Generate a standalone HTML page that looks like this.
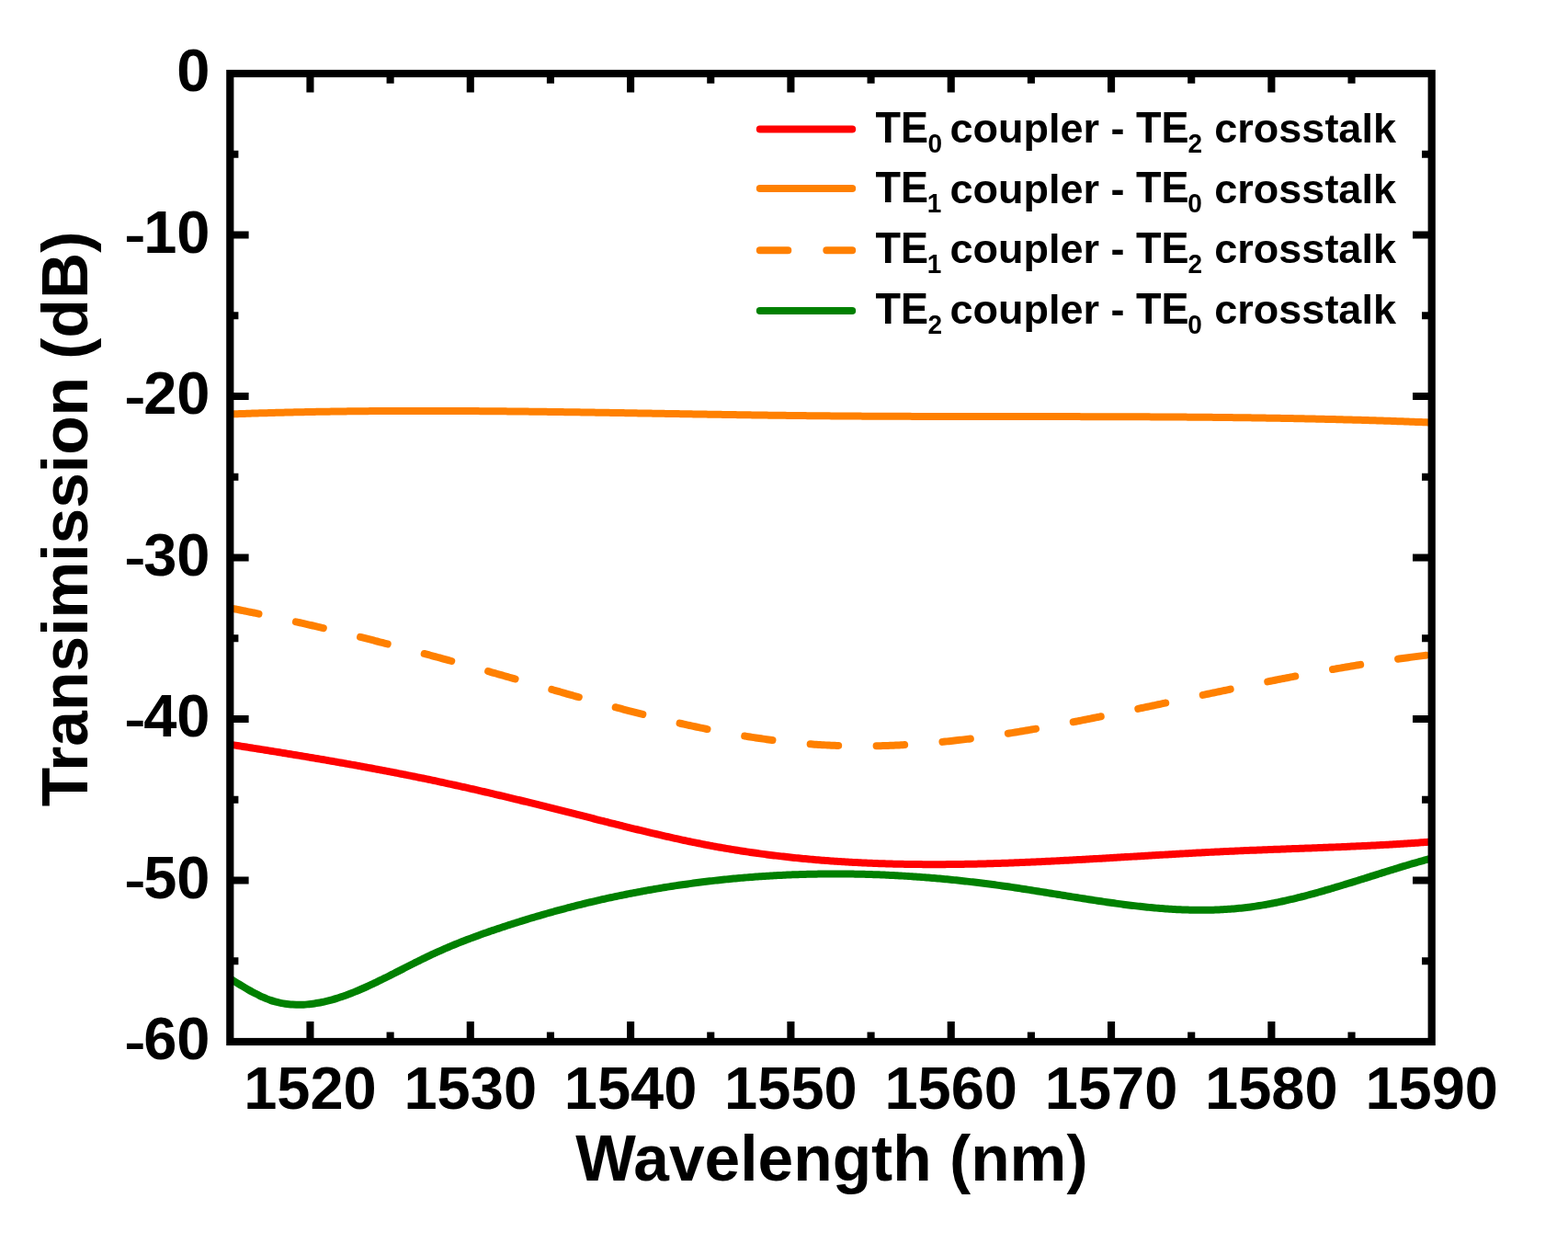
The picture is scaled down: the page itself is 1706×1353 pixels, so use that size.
<!DOCTYPE html><html><head><meta charset="utf-8"><title>Transmission crosstalk plot</title><style>html,body{margin:0;padding:0;background:#fff;}svg{display:block;}</style></head><body>
<svg width="1706" height="1353" viewBox="0 0 1706 1353">
<rect x="0" y="0" width="1706" height="1353" fill="#fff"/>
<defs><clipPath id="pc"><rect x="250.3" y="80.0" width="1307.4" height="1053.0"/></clipPath></defs>
<g clip-path="url(#pc)" fill="none" stroke-width="8.0" stroke-linejoin="round">
<path d="M250.30,450.46 C250.97,450.43 252.97,450.36 254.30,450.31 C255.63,450.26 256.97,450.21 258.30,450.16 C259.63,450.11 260.97,450.07 262.30,450.02 C263.63,449.97 264.97,449.93 266.30,449.88 C267.63,449.84 268.97,449.79 270.30,449.75 C271.63,449.70 272.97,449.66 274.30,449.62 C275.63,449.57 276.97,449.53 278.30,449.49 C279.63,449.45 280.97,449.41 282.30,449.37 C283.63,449.33 284.97,449.29 286.30,449.25 C287.63,449.21 288.97,449.17 290.30,449.13 C291.63,449.09 292.97,449.05 294.30,449.02 C295.63,448.98 296.97,448.94 298.30,448.91 C299.63,448.87 300.97,448.83 302.30,448.80 C303.63,448.76 304.97,448.73 306.30,448.70 C307.63,448.66 308.97,448.63 310.30,448.60 C311.63,448.56 312.97,448.53 314.30,448.50 C315.63,448.47 316.97,448.44 318.30,448.41 C319.63,448.37 320.97,448.34 322.30,448.32 C323.63,448.29 324.97,448.26 326.30,448.23 C327.63,448.20 328.97,448.17 330.30,448.14 C331.63,448.12 332.97,448.09 334.30,448.06 C335.63,448.04 336.97,448.01 338.30,447.98 C339.63,447.96 340.97,447.93 342.30,447.91 C343.63,447.88 344.97,447.86 346.30,447.84 C347.63,447.81 348.97,447.79 350.30,447.77 C351.63,447.75 352.97,447.72 354.30,447.70 C355.63,447.68 356.97,447.66 358.30,447.64 C359.63,447.62 360.97,447.60 362.30,447.58 C363.63,447.56 364.97,447.54 366.30,447.52 C367.63,447.50 368.97,447.48 370.30,447.46 C371.63,447.45 372.97,447.43 374.30,447.41 C375.63,447.40 376.97,447.38 378.30,447.36 C379.63,447.35 380.97,447.33 382.30,447.32 C383.63,447.30 384.97,447.29 386.30,447.27 C387.63,447.26 388.97,447.24 390.30,447.23 C391.63,447.22 392.97,447.20 394.30,447.19 C395.63,447.18 396.97,447.17 398.30,447.16 C399.63,447.14 400.97,447.13 402.30,447.12 C403.63,447.11 404.97,447.10 406.30,447.09 C407.63,447.08 408.97,447.07 410.30,447.06 C411.63,447.05 412.97,447.04 414.30,447.04 C415.63,447.03 416.97,447.02 418.30,447.01 C419.63,447.00 420.97,447.00 422.30,446.99 C423.63,446.98 424.97,446.98 426.30,446.97 C427.63,446.97 428.97,446.96 430.30,446.95 C431.63,446.95 432.97,446.94 434.30,446.94 C435.63,446.94 436.97,446.93 438.30,446.93 C439.63,446.92 440.97,446.92 442.30,446.92 C443.63,446.91 444.97,446.91 446.30,446.91 C447.63,446.91 448.97,446.91 450.30,446.90 C451.63,446.90 452.97,446.90 454.30,446.90 C455.63,446.90 456.97,446.90 458.30,446.90 C459.63,446.90 460.97,446.90 462.30,446.90 C463.63,446.90 464.97,446.90 466.30,446.90 C467.63,446.90 468.97,446.90 470.30,446.91 C471.63,446.91 472.97,446.91 474.30,446.91 C475.63,446.92 476.97,446.92 478.30,446.92 C479.63,446.92 480.97,446.93 482.30,446.93 C483.63,446.94 484.97,446.94 486.30,446.94 C487.63,446.95 488.97,446.95 490.30,446.96 C491.63,446.96 492.97,446.97 494.30,446.97 C495.63,446.98 496.97,446.99 498.30,446.99 C499.63,447.00 500.97,447.00 502.30,447.01 C503.63,447.02 504.97,447.03 506.30,447.03 C507.63,447.04 508.97,447.05 510.30,447.06 C511.63,447.06 512.97,447.07 514.30,447.08 C515.63,447.09 516.97,447.10 518.30,447.11 C519.63,447.12 520.97,447.12 522.30,447.13 C523.63,447.14 524.97,447.15 526.30,447.16 C527.63,447.17 528.97,447.18 530.30,447.19 C531.63,447.20 532.97,447.22 534.30,447.23 C535.63,447.24 536.97,447.25 538.30,447.26 C539.63,447.27 540.97,447.28 542.30,447.30 C543.63,447.31 544.97,447.32 546.30,447.33 C547.63,447.34 548.97,447.36 550.30,447.37 C551.63,447.38 552.97,447.40 554.30,447.41 C555.63,447.42 556.97,447.44 558.30,447.45 C559.63,447.46 560.97,447.48 562.30,447.49 C563.63,447.51 564.97,447.52 566.30,447.53 C567.63,447.55 568.97,447.56 570.30,447.58 C571.63,447.59 572.97,447.61 574.30,447.62 C575.63,447.64 576.97,447.66 578.30,447.67 C579.63,447.69 580.97,447.70 582.30,447.72 C583.63,447.74 584.97,447.75 586.30,447.77 C587.63,447.78 588.97,447.80 590.30,447.82 C591.63,447.83 592.97,447.85 594.30,447.87 C595.63,447.89 596.97,447.90 598.30,447.92 C599.63,447.94 600.97,447.96 602.30,447.97 C603.63,447.99 604.97,448.01 606.30,448.03 C607.63,448.05 608.97,448.06 610.30,448.08 C611.63,448.10 612.97,448.12 614.30,448.14 C615.63,448.16 616.97,448.18 618.30,448.19 C619.63,448.21 620.97,448.23 622.30,448.25 C623.63,448.27 624.97,448.29 626.30,448.31 C627.63,448.33 628.97,448.35 630.30,448.37 C631.63,448.39 632.97,448.41 634.30,448.43 C635.63,448.45 636.97,448.47 638.30,448.49 C639.63,448.51 640.97,448.53 642.30,448.55 C643.63,448.57 644.97,448.59 646.30,448.61 C647.63,448.63 648.97,448.65 650.30,448.67 C651.63,448.69 652.97,448.71 654.30,448.74 C655.63,448.76 656.97,448.78 658.30,448.80 C659.63,448.82 660.97,448.84 662.30,448.86 C663.63,448.88 664.97,448.90 666.30,448.93 C667.63,448.95 668.97,448.97 670.30,448.99 C671.63,449.01 672.97,449.03 674.30,449.05 C675.63,449.08 676.97,449.10 678.30,449.12 C679.63,449.14 680.97,449.16 682.30,449.19 C683.63,449.21 684.97,449.23 686.30,449.25 C687.63,449.27 688.97,449.30 690.30,449.32 C691.63,449.34 692.97,449.36 694.30,449.38 C695.63,449.41 696.97,449.43 698.30,449.45 C699.63,449.47 700.97,449.49 702.30,449.52 C703.63,449.54 704.97,449.56 706.30,449.58 C707.63,449.61 708.97,449.63 710.30,449.65 C711.63,449.67 712.97,449.70 714.30,449.72 C715.63,449.74 716.97,449.76 718.30,449.78 C719.63,449.81 720.97,449.83 722.30,449.85 C723.63,449.87 724.97,449.90 726.30,449.92 C727.63,449.94 728.97,449.96 730.30,449.99 C731.63,450.01 732.97,450.03 734.30,450.05 C735.63,450.07 736.97,450.10 738.30,450.12 C739.63,450.14 740.97,450.16 742.30,450.19 C743.63,450.21 744.97,450.23 746.30,450.25 C747.63,450.27 748.97,450.30 750.30,450.32 C751.63,450.34 752.97,450.36 754.30,450.38 C755.63,450.41 756.97,450.43 758.30,450.45 C759.63,450.47 760.97,450.49 762.30,450.52 C763.63,450.54 764.97,450.56 766.30,450.58 C767.63,450.60 768.97,450.62 770.30,450.65 C771.63,450.67 772.97,450.69 774.30,450.71 C775.63,450.73 776.97,450.75 778.30,450.77 C779.63,450.79 780.97,450.82 782.30,450.84 C783.63,450.86 784.97,450.88 786.30,450.90 C787.63,450.92 788.97,450.94 790.30,450.96 C791.63,450.98 792.97,451.00 794.30,451.02 C795.63,451.04 796.97,451.06 798.30,451.09 C799.63,451.11 800.97,451.13 802.30,451.15 C803.63,451.17 804.97,451.19 806.30,451.21 C807.63,451.23 808.97,451.25 810.30,451.27 C811.63,451.28 812.97,451.30 814.30,451.32 C815.63,451.34 816.97,451.36 818.30,451.38 C819.63,451.40 820.97,451.42 822.30,451.44 C823.63,451.46 824.97,451.48 826.30,451.49 C827.63,451.51 828.97,451.53 830.30,451.55 C831.63,451.57 832.97,451.59 834.30,451.60 C835.63,451.62 836.97,451.64 838.30,451.66 C839.63,451.68 840.97,451.69 842.30,451.71 C843.63,451.73 844.97,451.75 846.30,451.76 C847.63,451.78 848.97,451.80 850.30,451.81 C851.63,451.83 852.97,451.85 854.30,451.86 C855.63,451.88 856.97,451.90 858.30,451.91 C859.63,451.93 860.97,451.94 862.30,451.96 C863.63,451.98 864.97,451.99 866.30,452.01 C867.63,452.02 868.97,452.04 870.30,452.05 C871.63,452.07 872.97,452.08 874.30,452.10 C875.63,452.11 876.97,452.12 878.30,452.14 C879.63,452.15 880.97,452.17 882.30,452.18 C883.63,452.19 884.97,452.21 886.30,452.22 C887.63,452.23 888.97,452.25 890.30,452.26 C891.63,452.27 892.97,452.28 894.30,452.30 C895.63,452.31 896.97,452.32 898.30,452.33 C899.63,452.34 900.97,452.36 902.30,452.37 C903.63,452.38 904.97,452.39 906.30,452.40 C907.63,452.41 908.97,452.42 910.30,452.43 C911.63,452.45 912.97,452.46 914.30,452.47 C915.63,452.48 916.97,452.49 918.30,452.50 C919.63,452.51 920.97,452.52 922.30,452.53 C923.63,452.53 924.97,452.54 926.30,452.55 C927.63,452.56 928.97,452.57 930.30,452.58 C931.63,452.59 932.97,452.60 934.30,452.61 C935.63,452.61 936.97,452.62 938.30,452.63 C939.63,452.64 940.97,452.65 942.30,452.65 C943.63,452.66 944.97,452.67 946.30,452.68 C947.63,452.68 948.97,452.69 950.30,452.70 C951.63,452.71 952.97,452.71 954.30,452.72 C955.63,452.73 956.97,452.73 958.30,452.74 C959.63,452.75 960.97,452.75 962.30,452.76 C963.63,452.76 964.97,452.77 966.30,452.78 C967.63,452.78 968.97,452.79 970.30,452.79 C971.63,452.80 972.97,452.80 974.30,452.81 C975.63,452.81 976.97,452.82 978.30,452.82 C979.63,452.83 980.97,452.83 982.30,452.84 C983.63,452.84 984.97,452.85 986.30,452.85 C987.63,452.86 988.97,452.86 990.30,452.87 C991.63,452.87 992.97,452.88 994.30,452.88 C995.63,452.88 996.97,452.89 998.30,452.89 C999.63,452.89 1000.97,452.90 1002.30,452.90 C1003.63,452.91 1004.97,452.91 1006.30,452.91 C1007.63,452.92 1008.97,452.92 1010.30,452.92 C1011.63,452.93 1012.97,452.93 1014.30,452.93 C1015.63,452.94 1016.97,452.94 1018.30,452.94 C1019.63,452.94 1020.97,452.95 1022.30,452.95 C1023.63,452.95 1024.97,452.95 1026.30,452.96 C1027.63,452.96 1028.97,452.96 1030.30,452.96 C1031.63,452.97 1032.97,452.97 1034.30,452.97 C1035.63,452.97 1036.97,452.98 1038.30,452.98 C1039.63,452.98 1040.97,452.98 1042.30,452.98 C1043.63,452.99 1044.97,452.99 1046.30,452.99 C1047.63,452.99 1048.97,452.99 1050.30,453.00 C1051.63,453.00 1052.97,453.00 1054.30,453.00 C1055.63,453.00 1056.97,453.00 1058.30,453.00 C1059.63,453.01 1060.97,453.01 1062.30,453.01 C1063.63,453.01 1064.97,453.01 1066.30,453.01 C1067.63,453.01 1068.97,453.02 1070.30,453.02 C1071.63,453.02 1072.97,453.02 1074.30,453.02 C1075.63,453.02 1076.97,453.02 1078.30,453.02 C1079.63,453.03 1080.97,453.03 1082.30,453.03 C1083.63,453.03 1084.97,453.03 1086.30,453.03 C1087.63,453.03 1088.97,453.03 1090.30,453.03 C1091.63,453.04 1092.97,453.04 1094.30,453.04 C1095.63,453.04 1096.97,453.04 1098.30,453.04 C1099.63,453.04 1100.97,453.04 1102.30,453.04 C1103.63,453.04 1104.97,453.05 1106.30,453.05 C1107.63,453.05 1108.97,453.05 1110.30,453.05 C1111.63,453.05 1112.97,453.05 1114.30,453.05 C1115.63,453.05 1116.97,453.06 1118.30,453.06 C1119.63,453.06 1120.97,453.06 1122.30,453.06 C1123.63,453.06 1124.97,453.06 1126.30,453.06 C1127.63,453.06 1128.97,453.07 1130.30,453.07 C1131.63,453.07 1132.97,453.07 1134.30,453.07 C1135.63,453.07 1136.97,453.07 1138.30,453.07 C1139.63,453.08 1140.97,453.08 1142.30,453.08 C1143.63,453.08 1144.97,453.08 1146.30,453.08 C1147.63,453.08 1148.97,453.09 1150.30,453.09 C1151.63,453.09 1152.97,453.09 1154.30,453.09 C1155.63,453.09 1156.97,453.10 1158.30,453.10 C1159.63,453.10 1160.97,453.10 1162.30,453.10 C1163.63,453.11 1164.97,453.11 1166.30,453.11 C1167.63,453.11 1168.97,453.11 1170.30,453.12 C1171.63,453.12 1172.97,453.12 1174.30,453.12 C1175.63,453.13 1176.97,453.13 1178.30,453.13 C1179.63,453.13 1180.97,453.14 1182.30,453.14 C1183.63,453.14 1184.97,453.14 1186.30,453.15 C1187.63,453.15 1188.97,453.15 1190.30,453.16 C1191.63,453.16 1192.97,453.16 1194.30,453.17 C1195.63,453.17 1196.97,453.17 1198.30,453.18 C1199.63,453.18 1200.97,453.18 1202.30,453.19 C1203.63,453.19 1204.97,453.19 1206.30,453.20 C1207.63,453.20 1208.97,453.20 1210.30,453.21 C1211.63,453.21 1212.97,453.22 1214.30,453.22 C1215.63,453.23 1216.97,453.23 1218.30,453.23 C1219.63,453.24 1220.97,453.24 1222.30,453.25 C1223.63,453.25 1224.97,453.26 1226.30,453.26 C1227.63,453.27 1228.97,453.27 1230.30,453.28 C1231.63,453.28 1232.97,453.29 1234.30,453.30 C1235.63,453.30 1236.97,453.31 1238.30,453.31 C1239.63,453.32 1240.97,453.32 1242.30,453.33 C1243.63,453.34 1244.97,453.34 1246.30,453.35 C1247.63,453.36 1248.97,453.36 1250.30,453.37 C1251.63,453.38 1252.97,453.38 1254.30,453.39 C1255.63,453.40 1256.97,453.40 1258.30,453.41 C1259.63,453.42 1260.97,453.43 1262.30,453.43 C1263.63,453.44 1264.97,453.45 1266.30,453.46 C1267.63,453.47 1268.97,453.47 1270.30,453.48 C1271.63,453.49 1272.97,453.50 1274.30,453.51 C1275.63,453.52 1276.97,453.53 1278.30,453.54 C1279.63,453.54 1280.97,453.55 1282.30,453.56 C1283.63,453.57 1284.97,453.58 1286.30,453.59 C1287.63,453.60 1288.97,453.61 1290.30,453.62 C1291.63,453.63 1292.97,453.64 1294.30,453.65 C1295.63,453.67 1296.97,453.68 1298.30,453.69 C1299.63,453.70 1300.97,453.71 1302.30,453.72 C1303.63,453.73 1304.97,453.74 1306.30,453.76 C1307.63,453.77 1308.97,453.78 1310.30,453.79 C1311.63,453.80 1312.97,453.82 1314.30,453.83 C1315.63,453.84 1316.97,453.86 1318.30,453.87 C1319.63,453.88 1320.97,453.90 1322.30,453.91 C1323.63,453.92 1324.97,453.94 1326.30,453.95 C1327.63,453.97 1328.97,453.98 1330.30,453.99 C1331.63,454.01 1332.97,454.02 1334.30,454.04 C1335.63,454.05 1336.97,454.07 1338.30,454.09 C1339.63,454.10 1340.97,454.12 1342.30,454.13 C1343.63,454.15 1344.97,454.17 1346.30,454.18 C1347.63,454.20 1348.97,454.22 1350.30,454.23 C1351.63,454.25 1352.97,454.27 1354.30,454.28 C1355.63,454.30 1356.97,454.32 1358.30,454.34 C1359.63,454.36 1360.97,454.38 1362.30,454.39 C1363.63,454.41 1364.97,454.43 1366.30,454.45 C1367.63,454.47 1368.97,454.49 1370.30,454.51 C1371.63,454.53 1372.97,454.55 1374.30,454.57 C1375.63,454.59 1376.97,454.61 1378.30,454.63 C1379.63,454.65 1380.97,454.67 1382.30,454.70 C1383.63,454.72 1384.97,454.74 1386.30,454.76 C1387.63,454.78 1388.97,454.81 1390.30,454.83 C1391.63,454.85 1392.97,454.87 1394.30,454.90 C1395.63,454.92 1396.97,454.95 1398.30,454.97 C1399.63,454.99 1400.97,455.02 1402.30,455.04 C1403.63,455.07 1404.97,455.09 1406.30,455.12 C1407.63,455.14 1408.97,455.17 1410.30,455.19 C1411.63,455.22 1412.97,455.25 1414.30,455.27 C1415.63,455.30 1416.97,455.33 1418.30,455.35 C1419.63,455.38 1420.97,455.41 1422.30,455.44 C1423.63,455.46 1424.97,455.49 1426.30,455.52 C1427.63,455.55 1428.97,455.58 1430.30,455.61 C1431.63,455.64 1432.97,455.66 1434.30,455.69 C1435.63,455.72 1436.97,455.75 1438.30,455.79 C1439.63,455.82 1440.97,455.85 1442.30,455.88 C1443.63,455.91 1444.97,455.94 1446.30,455.97 C1447.63,456.01 1448.97,456.04 1450.30,456.07 C1451.63,456.10 1452.97,456.14 1454.30,456.17 C1455.63,456.20 1456.97,456.24 1458.30,456.27 C1459.63,456.31 1460.97,456.34 1462.30,456.38 C1463.63,456.41 1464.97,456.45 1466.30,456.48 C1467.63,456.52 1468.97,456.55 1470.30,456.59 C1471.63,456.63 1472.97,456.66 1474.30,456.70 C1475.63,456.74 1476.97,456.78 1478.30,456.81 C1479.63,456.85 1480.97,456.89 1482.30,456.93 C1483.63,456.97 1484.97,457.01 1486.30,457.05 C1487.63,457.09 1488.97,457.13 1490.30,457.17 C1491.63,457.21 1492.97,457.25 1494.30,457.29 C1495.63,457.33 1496.97,457.37 1498.30,457.41 C1499.63,457.46 1500.97,457.50 1502.30,457.54 C1503.63,457.58 1504.97,457.63 1506.30,457.67 C1507.63,457.72 1508.97,457.76 1510.30,457.80 C1511.63,457.85 1512.97,457.89 1514.30,457.94 C1515.63,457.99 1516.97,458.03 1518.30,458.08 C1519.63,458.12 1520.97,458.17 1522.30,458.22 C1523.63,458.26 1524.97,458.31 1526.30,458.36 C1527.63,458.41 1528.97,458.46 1530.30,458.51 C1531.63,458.56 1532.97,458.60 1534.30,458.65 C1535.63,458.70 1536.97,458.76 1538.30,458.81 C1539.63,458.86 1540.97,458.91 1542.30,458.96 C1543.63,459.01 1544.97,459.06 1546.30,459.12 C1547.63,459.17 1548.97,459.22 1550.30,459.28 C1551.63,459.33 1553.07,459.39 1554.30,459.44 C1555.53,459.49 1557.13,459.55 1557.70,459.58" stroke="#FF8000"/>
<path d="M250.30,661.39 C250.97,661.52 252.97,661.90 254.30,662.16 C255.63,662.42 256.97,662.67 258.30,662.93 C259.63,663.20 260.97,663.46 262.30,663.72 C263.63,663.98 264.97,664.25 266.30,664.51 C267.63,664.78 268.97,665.05 270.30,665.31 C271.63,665.58 272.97,665.85 274.30,666.12 C275.63,666.39 276.97,666.67 278.30,666.94 C279.63,667.21 280.97,667.49 282.30,667.76 C283.63,668.04 284.97,668.31 286.30,668.59 C287.63,668.87 288.97,669.15 290.30,669.43 C291.63,669.71 292.97,669.99 294.30,670.27 C295.63,670.56 296.97,670.84 298.30,671.12 C299.63,671.41 300.97,671.70 302.30,671.98 C303.63,672.27 304.97,672.56 306.30,672.85 C307.63,673.14 308.97,673.43 310.30,673.72 C311.63,674.01 312.97,674.30 314.30,674.60 C315.63,674.89 316.97,675.19 318.30,675.48 C319.63,675.78 320.97,676.08 322.30,676.38 C323.63,676.67 324.97,676.97 326.30,677.27 C327.63,677.58 328.97,677.88 330.30,678.18 C331.63,678.48 332.97,678.79 334.30,679.09 C335.63,679.40 336.97,679.70 338.30,680.01 C339.63,680.31 340.97,680.62 342.30,680.93 C343.63,681.24 344.97,681.55 346.30,681.86 C347.63,682.17 348.97,682.48 350.30,682.80 C351.63,683.11 352.97,683.42 354.30,683.74 C355.63,684.05 356.97,684.37 358.30,684.69 C359.63,685.00 360.97,685.32 362.30,685.64 C363.63,685.96 364.97,686.28 366.30,686.60 C367.63,686.92 368.97,687.24 370.30,687.56 C371.63,687.89 372.97,688.21 374.30,688.53 C375.63,688.86 376.97,689.18 378.30,689.51 C379.63,689.83 380.97,690.16 382.30,690.49 C383.63,690.82 384.97,691.15 386.30,691.48 C387.63,691.81 388.97,692.14 390.30,692.47 C391.63,692.80 392.97,693.13 394.30,693.46 C395.63,693.80 396.97,694.13 398.30,694.47 C399.63,694.80 400.97,695.14 402.30,695.47 C403.63,695.81 404.97,696.15 406.30,696.49 C407.63,696.82 408.97,697.16 410.30,697.50 C411.63,697.84 412.97,698.18 414.30,698.52 C415.63,698.87 416.97,699.21 418.30,699.55 C419.63,699.89 420.97,700.24 422.30,700.58 C423.63,700.93 424.97,701.27 426.30,701.62 C427.63,701.96 428.97,702.31 430.30,702.66 C431.63,703.01 432.97,703.35 434.30,703.70 C435.63,704.05 436.97,704.40 438.30,704.75 C439.63,705.10 440.97,705.45 442.30,705.81 C443.63,706.16 444.97,706.51 446.30,706.86 C447.63,707.22 448.97,707.57 450.30,707.93 C451.63,708.28 452.97,708.63 454.30,708.99 C455.63,709.35 456.97,709.70 458.30,710.06 C459.63,710.42 460.97,710.78 462.30,711.13 C463.63,711.49 464.97,711.85 466.30,712.21 C467.63,712.57 468.97,712.93 470.30,713.29 C471.63,713.65 472.97,714.02 474.30,714.38 C475.63,714.74 476.97,715.10 478.30,715.47 C479.63,715.83 480.97,716.19 482.30,716.56 C483.63,716.92 484.97,717.29 486.30,717.65 C487.63,718.02 488.97,718.39 490.30,718.75 C491.63,719.12 492.97,719.49 494.30,719.85 C495.63,720.22 496.97,720.59 498.30,720.96 C499.63,721.33 500.97,721.70 502.30,722.07 C503.63,722.44 504.97,722.81 506.30,723.18 C507.63,723.55 508.97,723.92 510.30,724.29 C511.63,724.67 512.97,725.04 514.30,725.41 C515.63,725.79 516.97,726.16 518.30,726.53 C519.63,726.91 520.97,727.28 522.30,727.66 C523.63,728.03 524.97,728.41 526.30,728.78 C527.63,729.16 528.97,729.53 530.30,729.91 C531.63,730.29 532.97,730.66 534.30,731.04 C535.63,731.42 536.97,731.80 538.30,732.17 C539.63,732.55 540.97,732.93 542.30,733.31 C543.63,733.69 544.97,734.07 546.30,734.45 C547.63,734.83 548.97,735.21 550.30,735.59 C551.63,735.97 552.97,736.35 554.30,736.73 C555.63,737.11 556.97,737.49 558.30,737.88 C559.63,738.26 560.97,738.64 562.30,739.02 C563.63,739.40 564.97,739.78 566.30,740.17 C567.63,740.55 568.97,740.93 570.30,741.31 C571.63,741.70 572.97,742.08 574.30,742.46 C575.63,742.84 576.97,743.23 578.30,743.61 C579.63,743.99 580.97,744.37 582.30,744.76 C583.63,745.14 584.97,745.52 586.30,745.90 C587.63,746.29 588.97,746.67 590.30,747.05 C591.63,747.43 592.97,747.81 594.30,748.19 C595.63,748.58 596.97,748.96 598.30,749.34 C599.63,749.72 600.97,750.10 602.30,750.48 C603.63,750.86 604.97,751.24 606.30,751.62 C607.63,752.00 608.97,752.38 610.30,752.76 C611.63,753.14 612.97,753.52 614.30,753.90 C615.63,754.27 616.97,754.65 618.30,755.03 C619.63,755.41 620.97,755.78 622.30,756.16 C623.63,756.54 624.97,756.91 626.30,757.29 C627.63,757.66 628.97,758.04 630.30,758.41 C631.63,758.78 632.97,759.16 634.30,759.53 C635.63,759.90 636.97,760.27 638.30,760.65 C639.63,761.02 640.97,761.39 642.30,761.76 C643.63,762.13 644.97,762.50 646.30,762.86 C647.63,763.23 648.97,763.60 650.30,763.96 C651.63,764.33 652.97,764.70 654.30,765.06 C655.63,765.42 656.97,765.79 658.30,766.15 C659.63,766.51 660.97,766.87 662.30,767.23 C663.63,767.60 664.97,767.95 666.30,768.31 C667.63,768.67 668.97,769.03 670.30,769.38 C671.63,769.74 672.97,770.10 674.30,770.45 C675.63,770.80 676.97,771.16 678.30,771.51 C679.63,771.86 680.97,772.21 682.30,772.56 C683.63,772.91 684.97,773.26 686.30,773.60 C687.63,773.95 688.97,774.29 690.30,774.64 C691.63,774.98 692.97,775.32 694.30,775.66 C695.63,776.00 696.97,776.34 698.30,776.68 C699.63,777.02 700.97,777.36 702.30,777.69 C703.63,778.03 704.97,778.36 706.30,778.69 C707.63,779.02 708.97,779.35 710.30,779.68 C711.63,780.01 712.97,780.34 714.30,780.66 C715.63,780.99 716.97,781.31 718.30,781.64 C719.63,781.96 720.97,782.28 722.30,782.60 C723.63,782.92 724.97,783.23 726.30,783.55 C727.63,783.86 728.97,784.18 730.30,784.49 C731.63,784.80 732.97,785.11 734.30,785.42 C735.63,785.72 736.97,786.03 738.30,786.33 C739.63,786.64 740.97,786.94 742.30,787.24 C743.63,787.54 744.97,787.84 746.30,788.13 C747.63,788.43 748.97,788.72 750.30,789.02 C751.63,789.31 752.97,789.60 754.30,789.88 C755.63,790.17 756.97,790.46 758.30,790.74 C759.63,791.02 760.97,791.30 762.30,791.58 C763.63,791.86 764.97,792.14 766.30,792.41 C767.63,792.69 768.97,792.96 770.30,793.23 C771.63,793.50 772.97,793.77 774.30,794.03 C775.63,794.30 776.97,794.56 778.30,794.82 C779.63,795.08 780.97,795.34 782.30,795.59 C783.63,795.85 784.97,796.10 786.30,796.35 C787.63,796.60 788.97,796.85 790.30,797.09 C791.63,797.34 792.97,797.58 794.30,797.82 C795.63,798.06 796.97,798.30 798.30,798.53 C799.63,798.77 800.97,799.00 802.30,799.23 C803.63,799.46 804.97,799.69 806.30,799.91 C807.63,800.13 808.97,800.35 810.30,800.57 C811.63,800.79 812.97,801.01 814.30,801.22 C815.63,801.43 816.97,801.64 818.30,801.85 C819.63,802.05 820.97,802.26 822.30,802.46 C823.63,802.66 824.97,802.86 826.30,803.05 C827.63,803.25 828.97,803.44 830.30,803.63 C831.63,803.82 832.97,804.00 834.30,804.19 C835.63,804.37 836.97,804.55 838.30,804.73 C839.63,804.90 840.97,805.08 842.30,805.25 C843.63,805.42 844.97,805.58 846.30,805.75 C847.63,805.91 848.97,806.07 850.30,806.23 C851.63,806.38 852.97,806.54 854.30,806.69 C855.63,806.84 856.97,806.99 858.30,807.13 C859.63,807.27 860.97,807.42 862.30,807.55 C863.63,807.69 864.97,807.82 866.30,807.95 C867.63,808.08 868.97,808.21 870.30,808.33 C871.63,808.46 872.97,808.58 874.30,808.69 C875.63,808.81 876.97,808.92 878.30,809.03 C879.63,809.14 880.97,809.24 882.30,809.34 C883.63,809.44 884.97,809.54 886.30,809.64 C887.63,809.73 888.97,809.82 890.30,809.91 C891.63,809.99 892.97,810.08 894.30,810.16 C895.63,810.23 896.97,810.31 898.30,810.38 C899.63,810.45 900.97,810.52 902.30,810.58 C903.63,810.65 904.97,810.71 906.30,810.76 C907.63,810.82 908.97,810.87 910.30,810.92 C911.63,810.97 912.97,811.01 914.30,811.05 C915.63,811.09 916.97,811.13 918.30,811.17 C919.63,811.20 920.97,811.23 922.30,811.26 C923.63,811.28 924.97,811.31 926.30,811.33 C927.63,811.35 928.97,811.36 930.30,811.37 C931.63,811.39 932.97,811.39 934.30,811.40 C935.63,811.41 936.97,811.41 938.30,811.41 C939.63,811.40 940.97,811.40 942.30,811.39 C943.63,811.38 944.97,811.37 946.30,811.36 C947.63,811.34 948.97,811.32 950.30,811.30 C951.63,811.28 952.97,811.26 954.30,811.23 C955.63,811.20 956.97,811.17 958.30,811.13 C959.63,811.10 960.97,811.06 962.30,811.02 C963.63,810.98 964.97,810.93 966.30,810.89 C967.63,810.84 968.97,810.79 970.30,810.74 C971.63,810.68 972.97,810.63 974.30,810.57 C975.63,810.51 976.97,810.44 978.30,810.38 C979.63,810.31 980.97,810.24 982.30,810.17 C983.63,810.10 984.97,810.03 986.30,809.95 C987.63,809.87 988.97,809.79 990.30,809.71 C991.63,809.62 992.97,809.54 994.30,809.45 C995.63,809.36 996.97,809.27 998.30,809.17 C999.63,809.08 1000.97,808.98 1002.30,808.88 C1003.63,808.78 1004.97,808.68 1006.30,808.57 C1007.63,808.46 1008.97,808.36 1010.30,808.24 C1011.63,808.13 1012.97,808.02 1014.30,807.90 C1015.63,807.79 1016.97,807.67 1018.30,807.55 C1019.63,807.42 1020.97,807.30 1022.30,807.17 C1023.63,807.05 1024.97,806.92 1026.30,806.78 C1027.63,806.65 1028.97,806.52 1030.30,806.38 C1031.63,806.24 1032.97,806.10 1034.30,805.96 C1035.63,805.82 1036.97,805.68 1038.30,805.53 C1039.63,805.38 1040.97,805.23 1042.30,805.08 C1043.63,804.93 1044.97,804.78 1046.30,804.62 C1047.63,804.47 1048.97,804.31 1050.30,804.15 C1051.63,803.99 1052.97,803.82 1054.30,803.66 C1055.63,803.49 1056.97,803.33 1058.30,803.16 C1059.63,802.99 1060.97,802.82 1062.30,802.64 C1063.63,802.47 1064.97,802.29 1066.30,802.12 C1067.63,801.94 1068.97,801.76 1070.30,801.58 C1071.63,801.39 1072.97,801.21 1074.30,801.02 C1075.63,800.84 1076.97,800.65 1078.30,800.46 C1079.63,800.27 1080.97,800.08 1082.30,799.88 C1083.63,799.69 1084.97,799.49 1086.30,799.29 C1087.63,799.10 1088.97,798.90 1090.30,798.70 C1091.63,798.49 1092.97,798.29 1094.30,798.09 C1095.63,797.88 1096.97,797.67 1098.30,797.46 C1099.63,797.26 1100.97,797.05 1102.30,796.83 C1103.63,796.62 1104.97,796.41 1106.30,796.19 C1107.63,795.98 1108.97,795.76 1110.30,795.54 C1111.63,795.32 1112.97,795.10 1114.30,794.88 C1115.63,794.66 1116.97,794.43 1118.30,794.21 C1119.63,793.98 1120.97,793.75 1122.30,793.53 C1123.63,793.30 1124.97,793.07 1126.30,792.84 C1127.63,792.61 1128.97,792.37 1130.30,792.14 C1131.63,791.90 1132.97,791.67 1134.30,791.43 C1135.63,791.19 1136.97,790.96 1138.30,790.72 C1139.63,790.48 1140.97,790.24 1142.30,789.99 C1143.63,789.75 1144.97,789.51 1146.30,789.26 C1147.63,789.02 1148.97,788.77 1150.30,788.52 C1151.63,788.28 1152.97,788.03 1154.30,787.78 C1155.63,787.53 1156.97,787.28 1158.30,787.02 C1159.63,786.77 1160.97,786.52 1162.30,786.26 C1163.63,786.01 1164.97,785.75 1166.30,785.50 C1167.63,785.24 1168.97,784.98 1170.30,784.73 C1171.63,784.47 1172.97,784.21 1174.30,783.95 C1175.63,783.69 1176.97,783.42 1178.30,783.16 C1179.63,782.90 1180.97,782.64 1182.30,782.37 C1183.63,782.11 1184.97,781.84 1186.30,781.58 C1187.63,781.31 1188.97,781.04 1190.30,780.78 C1191.63,780.51 1192.97,780.24 1194.30,779.97 C1195.63,779.70 1196.97,779.43 1198.30,779.16 C1199.63,778.89 1200.97,778.62 1202.30,778.35 C1203.63,778.07 1204.97,777.80 1206.30,777.53 C1207.63,777.26 1208.97,776.98 1210.30,776.71 C1211.63,776.43 1212.97,776.16 1214.30,775.88 C1215.63,775.61 1216.97,775.33 1218.30,775.05 C1219.63,774.78 1220.97,774.50 1222.30,774.22 C1223.63,773.94 1224.97,773.66 1226.30,773.39 C1227.63,773.11 1228.97,772.83 1230.30,772.55 C1231.63,772.27 1232.97,771.99 1234.30,771.71 C1235.63,771.43 1236.97,771.15 1238.30,770.87 C1239.63,770.59 1240.97,770.30 1242.30,770.02 C1243.63,769.74 1244.97,769.46 1246.30,769.18 C1247.63,768.90 1248.97,768.61 1250.30,768.33 C1251.63,768.05 1252.97,767.77 1254.30,767.48 C1255.63,767.20 1256.97,766.92 1258.30,766.64 C1259.63,766.35 1260.97,766.07 1262.30,765.79 C1263.63,765.50 1264.97,765.22 1266.30,764.94 C1267.63,764.65 1268.97,764.37 1270.30,764.09 C1271.63,763.80 1272.97,763.52 1274.30,763.24 C1275.63,762.95 1276.97,762.67 1278.30,762.39 C1279.63,762.10 1280.97,761.82 1282.30,761.54 C1283.63,761.25 1284.97,760.97 1286.30,760.69 C1287.63,760.40 1288.97,760.12 1290.30,759.84 C1291.63,759.55 1292.97,759.27 1294.30,758.99 C1295.63,758.71 1296.97,758.42 1298.30,758.14 C1299.63,757.86 1300.97,757.58 1302.30,757.29 C1303.63,757.01 1304.97,756.73 1306.30,756.45 C1307.63,756.17 1308.97,755.88 1310.30,755.60 C1311.63,755.32 1312.97,755.04 1314.30,754.76 C1315.63,754.48 1316.97,754.20 1318.30,753.92 C1319.63,753.64 1320.97,753.36 1322.30,753.08 C1323.63,752.80 1324.97,752.52 1326.30,752.24 C1327.63,751.96 1328.97,751.68 1330.30,751.40 C1331.63,751.12 1332.97,750.84 1334.30,750.56 C1335.63,750.29 1336.97,750.01 1338.30,749.73 C1339.63,749.46 1340.97,749.18 1342.30,748.90 C1343.63,748.63 1344.97,748.35 1346.30,748.07 C1347.63,747.80 1348.97,747.52 1350.30,747.25 C1351.63,746.98 1352.97,746.70 1354.30,746.43 C1355.63,746.15 1356.97,745.88 1358.30,745.61 C1359.63,745.34 1360.97,745.06 1362.30,744.79 C1363.63,744.52 1364.97,744.25 1366.30,743.98 C1367.63,743.71 1368.97,743.44 1370.30,743.17 C1371.63,742.90 1372.97,742.63 1374.30,742.37 C1375.63,742.10 1376.97,741.83 1378.30,741.56 C1379.63,741.30 1380.97,741.03 1382.30,740.77 C1383.63,740.50 1384.97,740.24 1386.30,739.97 C1387.63,739.71 1388.97,739.45 1390.30,739.18 C1391.63,738.92 1392.97,738.66 1394.30,738.40 C1395.63,738.14 1396.97,737.88 1398.30,737.62 C1399.63,737.36 1400.97,737.10 1402.30,736.84 C1403.63,736.59 1404.97,736.33 1406.30,736.07 C1407.63,735.82 1408.97,735.56 1410.30,735.31 C1411.63,735.05 1412.97,734.80 1414.30,734.55 C1415.63,734.29 1416.97,734.04 1418.30,733.79 C1419.63,733.54 1420.97,733.29 1422.30,733.04 C1423.63,732.79 1424.97,732.55 1426.30,732.30 C1427.63,732.05 1428.97,731.81 1430.30,731.56 C1431.63,731.32 1432.97,731.07 1434.30,730.83 C1435.63,730.59 1436.97,730.34 1438.30,730.10 C1439.63,729.86 1440.97,729.62 1442.30,729.38 C1443.63,729.14 1444.97,728.91 1446.30,728.67 C1447.63,728.43 1448.97,728.20 1450.30,727.96 C1451.63,727.73 1452.97,727.50 1454.30,727.26 C1455.63,727.03 1456.97,726.80 1458.30,726.57 C1459.63,726.34 1460.97,726.11 1462.30,725.88 C1463.63,725.66 1464.97,725.43 1466.30,725.20 C1467.63,724.98 1468.97,724.76 1470.30,724.53 C1471.63,724.31 1472.97,724.09 1474.30,723.87 C1475.63,723.65 1476.97,723.43 1478.30,723.21 C1479.63,723.00 1480.97,722.78 1482.30,722.56 C1483.63,722.35 1484.97,722.14 1486.30,721.92 C1487.63,721.71 1488.97,721.50 1490.30,721.29 C1491.63,721.08 1492.97,720.87 1494.30,720.67 C1495.63,720.46 1496.97,720.26 1498.30,720.05 C1499.63,719.85 1500.97,719.65 1502.30,719.44 C1503.63,719.24 1504.97,719.04 1506.30,718.85 C1507.63,718.65 1508.97,718.45 1510.30,718.26 C1511.63,718.06 1512.97,717.87 1514.30,717.68 C1515.63,717.48 1516.97,717.29 1518.30,717.10 C1519.63,716.92 1520.97,716.73 1522.30,716.54 C1523.63,716.36 1524.97,716.17 1526.30,715.99 C1527.63,715.81 1528.97,715.63 1530.30,715.45 C1531.63,715.27 1532.97,715.09 1534.30,714.91 C1535.63,714.74 1536.97,714.56 1538.30,714.39 C1539.63,714.22 1540.97,714.05 1542.30,713.88 C1543.63,713.71 1544.97,713.54 1546.30,713.38 C1547.63,713.21 1548.97,713.05 1550.30,712.88 C1551.63,712.72 1553.07,712.55 1554.30,712.40 C1555.53,712.26 1557.13,712.07 1557.70,712.00" stroke="#FF8000" stroke-dasharray="30.6 41.4" stroke-dashoffset="-1.2" stroke-linecap="round"/>
<path d="M250.30,809.75 C250.97,809.86 252.97,810.17 254.30,810.38 C255.63,810.59 256.97,810.80 258.30,811.00 C259.63,811.21 260.97,811.42 262.30,811.63 C263.63,811.84 264.97,812.05 266.30,812.26 C267.63,812.47 268.97,812.68 270.30,812.89 C271.63,813.10 272.97,813.31 274.30,813.52 C275.63,813.73 276.97,813.94 278.30,814.15 C279.63,814.36 280.97,814.58 282.30,814.79 C283.63,815.00 284.97,815.21 286.30,815.42 C287.63,815.64 288.97,815.85 290.30,816.06 C291.63,816.28 292.97,816.49 294.30,816.71 C295.63,816.92 296.97,817.13 298.30,817.35 C299.63,817.56 300.97,817.78 302.30,817.99 C303.63,818.21 304.97,818.43 306.30,818.64 C307.63,818.86 308.97,819.08 310.30,819.29 C311.63,819.51 312.97,819.73 314.30,819.95 C315.63,820.17 316.97,820.38 318.30,820.60 C319.63,820.82 320.97,821.04 322.30,821.26 C323.63,821.48 324.97,821.70 326.30,821.93 C327.63,822.15 328.97,822.37 330.30,822.59 C331.63,822.81 332.97,823.04 334.30,823.26 C335.63,823.48 336.97,823.71 338.30,823.93 C339.63,824.16 340.97,824.38 342.30,824.61 C343.63,824.83 344.97,825.06 346.30,825.28 C347.63,825.51 348.97,825.74 350.30,825.97 C351.63,826.20 352.97,826.42 354.30,826.65 C355.63,826.88 356.97,827.11 358.30,827.34 C359.63,827.57 360.97,827.80 362.30,828.04 C363.63,828.27 364.97,828.50 366.30,828.73 C367.63,828.97 368.97,829.20 370.30,829.44 C371.63,829.67 372.97,829.91 374.30,830.14 C375.63,830.38 376.97,830.62 378.30,830.85 C379.63,831.09 380.97,831.33 382.30,831.57 C383.63,831.81 384.97,832.05 386.30,832.29 C387.63,832.53 388.97,832.77 390.30,833.01 C391.63,833.25 392.97,833.50 394.30,833.74 C395.63,833.98 396.97,834.23 398.30,834.47 C399.63,834.72 400.97,834.96 402.30,835.21 C403.63,835.46 404.97,835.71 406.30,835.95 C407.63,836.20 408.97,836.45 410.30,836.70 C411.63,836.95 412.97,837.20 414.30,837.46 C415.63,837.71 416.97,837.96 418.30,838.22 C419.63,838.47 420.97,838.72 422.30,838.98 C423.63,839.24 424.97,839.49 426.30,839.75 C427.63,840.01 428.97,840.27 430.30,840.53 C431.63,840.79 432.97,841.05 434.30,841.31 C435.63,841.57 436.97,841.83 438.30,842.10 C439.63,842.36 440.97,842.62 442.30,842.89 C443.63,843.15 444.97,843.42 446.30,843.69 C447.63,843.96 448.97,844.22 450.30,844.49 C451.63,844.76 452.97,845.03 454.30,845.31 C455.63,845.58 456.97,845.85 458.30,846.12 C459.63,846.40 460.97,846.67 462.30,846.95 C463.63,847.22 464.97,847.50 466.30,847.78 C467.63,848.06 468.97,848.34 470.30,848.62 C471.63,848.90 472.97,849.18 474.30,849.46 C475.63,849.74 476.97,850.03 478.30,850.31 C479.63,850.60 480.97,850.88 482.30,851.17 C483.63,851.46 484.97,851.75 486.30,852.04 C487.63,852.32 488.97,852.61 490.30,852.91 C491.63,853.20 492.97,853.49 494.30,853.78 C495.63,854.08 496.97,854.37 498.30,854.67 C499.63,854.96 500.97,855.26 502.30,855.56 C503.63,855.86 504.97,856.15 506.30,856.45 C507.63,856.75 508.97,857.05 510.30,857.36 C511.63,857.66 512.97,857.96 514.30,858.26 C515.63,858.57 516.97,858.87 518.30,859.18 C519.63,859.48 520.97,859.79 522.30,860.09 C523.63,860.40 524.97,860.71 526.30,861.02 C527.63,861.33 528.97,861.64 530.30,861.95 C531.63,862.26 532.97,862.57 534.30,862.88 C535.63,863.19 536.97,863.50 538.30,863.82 C539.63,864.13 540.97,864.45 542.30,864.76 C543.63,865.08 544.97,865.39 546.30,865.71 C547.63,866.03 548.97,866.34 550.30,866.66 C551.63,866.98 552.97,867.30 554.30,867.62 C555.63,867.94 556.97,868.26 558.30,868.58 C559.63,868.90 560.97,869.22 562.30,869.54 C563.63,869.87 564.97,870.19 566.30,870.51 C567.63,870.84 568.97,871.16 570.30,871.49 C571.63,871.81 572.97,872.14 574.30,872.46 C575.63,872.79 576.97,873.12 578.30,873.44 C579.63,873.77 580.97,874.10 582.30,874.43 C583.63,874.75 584.97,875.08 586.30,875.41 C587.63,875.74 588.97,876.07 590.30,876.40 C591.63,876.73 592.97,877.06 594.30,877.40 C595.63,877.73 596.97,878.06 598.30,878.39 C599.63,878.72 600.97,879.06 602.30,879.39 C603.63,879.72 604.97,880.06 606.30,880.39 C607.63,880.72 608.97,881.06 610.30,881.39 C611.63,881.73 612.97,882.06 614.30,882.40 C615.63,882.74 616.97,883.07 618.30,883.41 C619.63,883.74 620.97,884.08 622.30,884.42 C623.63,884.75 624.97,885.09 626.30,885.43 C627.63,885.77 628.97,886.11 630.30,886.44 C631.63,886.78 632.97,887.12 634.30,887.46 C635.63,887.80 636.97,888.13 638.30,888.47 C639.63,888.81 640.97,889.15 642.30,889.49 C643.63,889.83 644.97,890.17 646.30,890.50 C647.63,890.84 648.97,891.18 650.30,891.52 C651.63,891.86 652.97,892.19 654.30,892.53 C655.63,892.87 656.97,893.21 658.30,893.54 C659.63,893.88 660.97,894.22 662.30,894.55 C663.63,894.89 664.97,895.23 666.30,895.56 C667.63,895.90 668.97,896.23 670.30,896.56 C671.63,896.90 672.97,897.23 674.30,897.56 C675.63,897.90 676.97,898.23 678.30,898.56 C679.63,898.89 680.97,899.22 682.30,899.55 C683.63,899.88 684.97,900.21 686.30,900.54 C687.63,900.87 688.97,901.19 690.30,901.52 C691.63,901.84 692.97,902.17 694.30,902.49 C695.63,902.82 696.97,903.14 698.30,903.46 C699.63,903.78 700.97,904.10 702.30,904.42 C703.63,904.74 704.97,905.06 706.30,905.38 C707.63,905.69 708.97,906.01 710.30,906.32 C711.63,906.64 712.97,906.95 714.30,907.26 C715.63,907.57 716.97,907.88 718.30,908.19 C719.63,908.50 720.97,908.80 722.30,909.11 C723.63,909.41 724.97,909.72 726.30,910.02 C727.63,910.32 728.97,910.62 730.30,910.92 C731.63,911.21 732.97,911.51 734.30,911.80 C735.63,912.10 736.97,912.39 738.30,912.68 C739.63,912.97 740.97,913.26 742.30,913.55 C743.63,913.83 744.97,914.12 746.30,914.40 C747.63,914.68 748.97,914.96 750.30,915.24 C751.63,915.52 752.97,915.79 754.30,916.06 C755.63,916.34 756.97,916.61 758.30,916.88 C759.63,917.15 760.97,917.41 762.30,917.68 C763.63,917.94 764.97,918.20 766.30,918.46 C767.63,918.72 768.97,918.98 770.30,919.23 C771.63,919.48 772.97,919.73 774.30,919.98 C775.63,920.23 776.97,920.48 778.30,920.72 C779.63,920.96 780.97,921.20 782.30,921.44 C783.63,921.68 784.97,921.91 786.30,922.15 C787.63,922.38 788.97,922.61 790.30,922.84 C791.63,923.06 792.97,923.29 794.30,923.51 C795.63,923.73 796.97,923.95 798.30,924.17 C799.63,924.39 800.97,924.60 802.30,924.81 C803.63,925.02 804.97,925.23 806.30,925.44 C807.63,925.65 808.97,925.85 810.30,926.05 C811.63,926.25 812.97,926.45 814.30,926.65 C815.63,926.85 816.97,927.04 818.30,927.23 C819.63,927.42 820.97,927.61 822.30,927.80 C823.63,927.99 824.97,928.17 826.30,928.35 C827.63,928.54 828.97,928.71 830.30,928.89 C831.63,929.07 832.97,929.24 834.30,929.42 C835.63,929.59 836.97,929.76 838.30,929.93 C839.63,930.09 840.97,930.26 842.30,930.42 C843.63,930.59 844.97,930.75 846.30,930.90 C847.63,931.06 848.97,931.22 850.30,931.37 C851.63,931.53 852.97,931.68 854.30,931.83 C855.63,931.98 856.97,932.12 858.30,932.27 C859.63,932.41 860.97,932.55 862.30,932.69 C863.63,932.83 864.97,932.97 866.30,933.11 C867.63,933.24 868.97,933.38 870.30,933.51 C871.63,933.64 872.97,933.77 874.30,933.90 C875.63,934.02 876.97,934.15 878.30,934.27 C879.63,934.39 880.97,934.51 882.30,934.63 C883.63,934.75 884.97,934.87 886.30,934.98 C887.63,935.09 888.97,935.21 890.30,935.32 C891.63,935.43 892.97,935.53 894.30,935.64 C895.63,935.75 896.97,935.85 898.30,935.95 C899.63,936.05 900.97,936.15 902.30,936.25 C903.63,936.35 904.97,936.44 906.30,936.54 C907.63,936.63 908.97,936.72 910.30,936.81 C911.63,936.90 912.97,936.99 914.30,937.08 C915.63,937.16 916.97,937.24 918.30,937.33 C919.63,937.41 920.97,937.49 922.30,937.57 C923.63,937.64 924.97,937.72 926.30,937.79 C927.63,937.87 928.97,937.94 930.30,938.01 C931.63,938.08 932.97,938.15 934.30,938.22 C935.63,938.28 936.97,938.35 938.30,938.41 C939.63,938.48 940.97,938.54 942.30,938.60 C943.63,938.66 944.97,938.71 946.30,938.77 C947.63,938.82 948.97,938.88 950.30,938.93 C951.63,938.98 952.97,939.03 954.30,939.08 C955.63,939.13 956.97,939.18 958.30,939.22 C959.63,939.27 960.97,939.31 962.30,939.35 C963.63,939.40 964.97,939.44 966.30,939.47 C967.63,939.51 968.97,939.55 970.30,939.58 C971.63,939.62 972.97,939.65 974.30,939.69 C975.63,939.72 976.97,939.75 978.30,939.78 C979.63,939.80 980.97,939.83 982.30,939.86 C983.63,939.88 984.97,939.91 986.30,939.93 C987.63,939.95 988.97,939.97 990.30,939.99 C991.63,940.01 992.97,940.03 994.30,940.04 C995.63,940.06 996.97,940.07 998.30,940.09 C999.63,940.10 1000.97,940.11 1002.30,940.12 C1003.63,940.13 1004.97,940.14 1006.30,940.15 C1007.63,940.15 1008.97,940.16 1010.30,940.16 C1011.63,940.17 1012.97,940.17 1014.30,940.17 C1015.63,940.17 1016.97,940.17 1018.30,940.17 C1019.63,940.17 1020.97,940.17 1022.30,940.16 C1023.63,940.16 1024.97,940.15 1026.30,940.14 C1027.63,940.14 1028.97,940.13 1030.30,940.12 C1031.63,940.11 1032.97,940.10 1034.30,940.09 C1035.63,940.07 1036.97,940.06 1038.30,940.04 C1039.63,940.03 1040.97,940.01 1042.30,939.99 C1043.63,939.98 1044.97,939.96 1046.30,939.94 C1047.63,939.92 1048.97,939.90 1050.30,939.87 C1051.63,939.85 1052.97,939.83 1054.30,939.80 C1055.63,939.78 1056.97,939.75 1058.30,939.72 C1059.63,939.69 1060.97,939.67 1062.30,939.64 C1063.63,939.61 1064.97,939.58 1066.30,939.54 C1067.63,939.51 1068.97,939.48 1070.30,939.44 C1071.63,939.41 1072.97,939.37 1074.30,939.34 C1075.63,939.30 1076.97,939.26 1078.30,939.22 C1079.63,939.18 1080.97,939.14 1082.30,939.10 C1083.63,939.06 1084.97,939.02 1086.30,938.98 C1087.63,938.94 1088.97,938.89 1090.30,938.85 C1091.63,938.80 1092.97,938.76 1094.30,938.71 C1095.63,938.66 1096.97,938.62 1098.30,938.57 C1099.63,938.52 1100.97,938.47 1102.30,938.42 C1103.63,938.37 1104.97,938.32 1106.30,938.27 C1107.63,938.21 1108.97,938.16 1110.30,938.11 C1111.63,938.05 1112.97,938.00 1114.30,937.94 C1115.63,937.89 1116.97,937.83 1118.30,937.77 C1119.63,937.72 1120.97,937.66 1122.30,937.60 C1123.63,937.54 1124.97,937.48 1126.30,937.42 C1127.63,937.36 1128.97,937.30 1130.30,937.24 C1131.63,937.18 1132.97,937.12 1134.30,937.05 C1135.63,936.99 1136.97,936.93 1138.30,936.86 C1139.63,936.80 1140.97,936.74 1142.30,936.67 C1143.63,936.60 1144.97,936.54 1146.30,936.47 C1147.63,936.41 1148.97,936.34 1150.30,936.27 C1151.63,936.20 1152.97,936.13 1154.30,936.07 C1155.63,936.00 1156.97,935.93 1158.30,935.86 C1159.63,935.79 1160.97,935.72 1162.30,935.65 C1163.63,935.58 1164.97,935.50 1166.30,935.43 C1167.63,935.36 1168.97,935.29 1170.30,935.22 C1171.63,935.14 1172.97,935.07 1174.30,935.00 C1175.63,934.92 1176.97,934.85 1178.30,934.78 C1179.63,934.70 1180.97,934.63 1182.30,934.55 C1183.63,934.48 1184.97,934.40 1186.30,934.33 C1187.63,934.25 1188.97,934.17 1190.30,934.10 C1191.63,934.02 1192.97,933.95 1194.30,933.87 C1195.63,933.79 1196.97,933.72 1198.30,933.64 C1199.63,933.56 1200.97,933.48 1202.30,933.41 C1203.63,933.33 1204.97,933.25 1206.30,933.17 C1207.63,933.09 1208.97,933.02 1210.30,932.94 C1211.63,932.86 1212.97,932.78 1214.30,932.70 C1215.63,932.62 1216.97,932.54 1218.30,932.46 C1219.63,932.39 1220.97,932.31 1222.30,932.23 C1223.63,932.15 1224.97,932.07 1226.30,931.99 C1227.63,931.91 1228.97,931.83 1230.30,931.75 C1231.63,931.67 1232.97,931.59 1234.30,931.51 C1235.63,931.43 1236.97,931.36 1238.30,931.28 C1239.63,931.20 1240.97,931.12 1242.30,931.04 C1243.63,930.96 1244.97,930.88 1246.30,930.80 C1247.63,930.72 1248.97,930.64 1250.30,930.56 C1251.63,930.48 1252.97,930.41 1254.30,930.33 C1255.63,930.25 1256.97,930.17 1258.30,930.09 C1259.63,930.01 1260.97,929.94 1262.30,929.86 C1263.63,929.78 1264.97,929.70 1266.30,929.62 C1267.63,929.55 1268.97,929.47 1270.30,929.39 C1271.63,929.32 1272.97,929.24 1274.30,929.16 C1275.63,929.09 1276.97,929.01 1278.30,928.93 C1279.63,928.86 1280.97,928.78 1282.30,928.71 C1283.63,928.63 1284.97,928.56 1286.30,928.48 C1287.63,928.41 1288.97,928.33 1290.30,928.26 C1291.63,928.19 1292.97,928.11 1294.30,928.04 C1295.63,927.97 1296.97,927.89 1298.30,927.82 C1299.63,927.75 1300.97,927.68 1302.30,927.61 C1303.63,927.54 1304.97,927.46 1306.30,927.39 C1307.63,927.32 1308.97,927.25 1310.30,927.18 C1311.63,927.12 1312.97,927.05 1314.30,926.98 C1315.63,926.91 1316.97,926.84 1318.30,926.78 C1319.63,926.71 1320.97,926.64 1322.30,926.58 C1323.63,926.51 1324.97,926.44 1326.30,926.38 C1327.63,926.32 1328.97,926.25 1330.30,926.19 C1331.63,926.12 1332.97,926.06 1334.30,926.00 C1335.63,925.94 1336.97,925.88 1338.30,925.82 C1339.63,925.75 1340.97,925.69 1342.30,925.64 C1343.63,925.58 1344.97,925.52 1346.30,925.46 C1347.63,925.40 1348.97,925.34 1350.30,925.29 C1351.63,925.23 1352.97,925.17 1354.30,925.12 C1355.63,925.06 1356.97,925.01 1358.30,924.95 C1359.63,924.90 1360.97,924.84 1362.30,924.79 C1363.63,924.73 1364.97,924.68 1366.30,924.63 C1367.63,924.57 1368.97,924.52 1370.30,924.47 C1371.63,924.42 1372.97,924.37 1374.30,924.31 C1375.63,924.26 1376.97,924.21 1378.30,924.16 C1379.63,924.11 1380.97,924.06 1382.30,924.01 C1383.63,923.96 1384.97,923.91 1386.30,923.86 C1387.63,923.81 1388.97,923.76 1390.30,923.71 C1391.63,923.66 1392.97,923.61 1394.30,923.56 C1395.63,923.51 1396.97,923.46 1398.30,923.41 C1399.63,923.36 1400.97,923.31 1402.30,923.26 C1403.63,923.22 1404.97,923.17 1406.30,923.12 C1407.63,923.07 1408.97,923.02 1410.30,922.97 C1411.63,922.92 1412.97,922.87 1414.30,922.82 C1415.63,922.78 1416.97,922.73 1418.30,922.68 C1419.63,922.63 1420.97,922.58 1422.30,922.53 C1423.63,922.48 1424.97,922.43 1426.30,922.38 C1427.63,922.33 1428.97,922.28 1430.30,922.23 C1431.63,922.18 1432.97,922.13 1434.30,922.08 C1435.63,922.03 1436.97,921.98 1438.30,921.93 C1439.63,921.88 1440.97,921.83 1442.30,921.77 C1443.63,921.72 1444.97,921.67 1446.30,921.62 C1447.63,921.56 1448.97,921.51 1450.30,921.46 C1451.63,921.40 1452.97,921.35 1454.30,921.30 C1455.63,921.24 1456.97,921.19 1458.30,921.13 C1459.63,921.08 1460.97,921.02 1462.30,920.97 C1463.63,920.91 1464.97,920.85 1466.30,920.80 C1467.63,920.74 1468.97,920.68 1470.30,920.62 C1471.63,920.56 1472.97,920.50 1474.30,920.44 C1475.63,920.39 1476.97,920.32 1478.30,920.26 C1479.63,920.20 1480.97,920.14 1482.30,920.08 C1483.63,920.02 1484.97,919.95 1486.30,919.89 C1487.63,919.82 1488.97,919.76 1490.30,919.69 C1491.63,919.63 1492.97,919.56 1494.30,919.49 C1495.63,919.43 1496.97,919.36 1498.30,919.29 C1499.63,919.22 1500.97,919.15 1502.30,919.08 C1503.63,919.01 1504.97,918.94 1506.30,918.87 C1507.63,918.79 1508.97,918.72 1510.30,918.64 C1511.63,918.57 1512.97,918.49 1514.30,918.42 C1515.63,918.34 1516.97,918.26 1518.30,918.18 C1519.63,918.11 1520.97,918.03 1522.30,917.94 C1523.63,917.86 1524.97,917.78 1526.30,917.70 C1527.63,917.61 1528.97,917.53 1530.30,917.44 C1531.63,917.36 1532.97,917.27 1534.30,917.18 C1535.63,917.10 1536.97,917.01 1538.30,916.92 C1539.63,916.82 1540.97,916.73 1542.30,916.64 C1543.63,916.55 1544.97,916.45 1546.30,916.36 C1547.63,916.26 1548.97,916.16 1550.30,916.06 C1551.63,915.96 1553.07,915.86 1554.30,915.76 C1555.53,915.67 1557.13,915.54 1557.70,915.50" stroke="#FF0000"/>
<path d="M250.30,1064.45 C250.97,1064.85 252.97,1066.06 254.30,1066.87 C255.63,1067.68 256.97,1068.50 258.30,1069.31 C259.63,1070.12 260.97,1070.93 262.30,1071.73 C263.63,1072.53 264.97,1073.32 266.30,1074.11 C267.63,1074.89 268.97,1075.67 270.30,1076.43 C271.63,1077.19 272.97,1077.94 274.30,1078.67 C275.63,1079.40 276.97,1080.11 278.30,1080.80 C279.63,1081.49 280.97,1082.17 282.30,1082.81 C283.63,1083.46 284.97,1084.08 286.30,1084.67 C287.63,1085.26 288.97,1085.83 290.30,1086.36 C291.63,1086.89 292.97,1087.39 294.30,1087.85 C295.63,1088.32 296.97,1088.74 298.30,1089.13 C299.63,1089.53 300.97,1089.88 302.30,1090.21 C303.63,1090.54 304.97,1090.83 306.30,1091.09 C307.63,1091.35 308.97,1091.57 310.30,1091.77 C311.63,1091.97 312.97,1092.14 314.30,1092.28 C315.63,1092.42 316.97,1092.53 318.30,1092.61 C319.63,1092.69 320.97,1092.75 322.30,1092.78 C323.63,1092.81 324.97,1092.81 326.30,1092.79 C327.63,1092.77 328.97,1092.72 330.30,1092.65 C331.63,1092.59 332.97,1092.49 334.30,1092.38 C335.63,1092.27 336.97,1092.13 338.30,1091.97 C339.63,1091.81 340.97,1091.64 342.30,1091.44 C343.63,1091.24 344.97,1091.02 346.30,1090.78 C347.63,1090.54 348.97,1090.28 350.30,1090.01 C351.63,1089.73 352.97,1089.44 354.30,1089.12 C355.63,1088.81 356.97,1088.48 358.30,1088.13 C359.63,1087.78 360.97,1087.42 362.30,1087.04 C363.63,1086.66 364.97,1086.26 366.30,1085.85 C367.63,1085.44 368.97,1085.01 370.30,1084.57 C371.63,1084.12 372.97,1083.67 374.30,1083.20 C375.63,1082.73 376.97,1082.25 378.30,1081.75 C379.63,1081.26 380.97,1080.75 382.30,1080.23 C383.63,1079.71 384.97,1079.18 386.30,1078.63 C387.63,1078.09 388.97,1077.54 390.30,1076.97 C391.63,1076.41 392.97,1075.84 394.30,1075.25 C395.63,1074.67 396.97,1074.08 398.30,1073.48 C399.63,1072.88 400.97,1072.27 402.30,1071.65 C403.63,1071.04 404.97,1070.41 406.30,1069.78 C407.63,1069.15 408.97,1068.52 410.30,1067.87 C411.63,1067.23 412.97,1066.58 414.30,1065.93 C415.63,1065.28 416.97,1064.62 418.30,1063.96 C419.63,1063.29 420.97,1062.63 422.30,1061.96 C423.63,1061.29 424.97,1060.62 426.30,1059.94 C427.63,1059.27 428.97,1058.59 430.30,1057.91 C431.63,1057.23 432.97,1056.55 434.30,1055.87 C435.63,1055.19 436.97,1054.51 438.30,1053.83 C439.63,1053.15 440.97,1052.47 442.30,1051.79 C443.63,1051.11 444.97,1050.43 446.30,1049.75 C447.63,1049.08 448.97,1048.40 450.30,1047.73 C451.63,1047.06 452.97,1046.39 454.30,1045.73 C455.63,1045.06 456.97,1044.40 458.30,1043.74 C459.63,1043.09 460.97,1042.43 462.30,1041.79 C463.63,1041.14 464.97,1040.50 466.30,1039.86 C467.63,1039.23 468.97,1038.60 470.30,1037.98 C471.63,1037.35 472.97,1036.74 474.30,1036.13 C475.63,1035.52 476.97,1034.92 478.30,1034.33 C479.63,1033.73 480.97,1033.15 482.30,1032.56 C483.63,1031.98 484.97,1031.41 486.30,1030.84 C487.63,1030.27 488.97,1029.71 490.30,1029.15 C491.63,1028.59 492.97,1028.04 494.30,1027.50 C495.63,1026.95 496.97,1026.41 498.30,1025.88 C499.63,1025.34 500.97,1024.81 502.30,1024.29 C503.63,1023.77 504.97,1023.25 506.30,1022.73 C507.63,1022.22 508.97,1021.71 510.30,1021.21 C511.63,1020.70 512.97,1020.20 514.30,1019.70 C515.63,1019.21 516.97,1018.72 518.30,1018.23 C519.63,1017.74 520.97,1017.26 522.30,1016.78 C523.63,1016.30 524.97,1015.83 526.30,1015.35 C527.63,1014.88 528.97,1014.41 530.30,1013.95 C531.63,1013.48 532.97,1013.02 534.30,1012.56 C535.63,1012.10 536.97,1011.65 538.30,1011.19 C539.63,1010.74 540.97,1010.29 542.30,1009.84 C543.63,1009.40 544.97,1008.95 546.30,1008.51 C547.63,1008.07 548.97,1007.63 550.30,1007.19 C551.63,1006.76 552.97,1006.32 554.30,1005.89 C555.63,1005.46 556.97,1005.03 558.30,1004.60 C559.63,1004.18 560.97,1003.75 562.30,1003.33 C563.63,1002.91 564.97,1002.50 566.30,1002.08 C567.63,1001.66 568.97,1001.25 570.30,1000.84 C571.63,1000.43 572.97,1000.02 574.30,999.62 C575.63,999.22 576.97,998.81 578.30,998.41 C579.63,998.01 580.97,997.62 582.30,997.22 C583.63,996.83 584.97,996.44 586.30,996.05 C587.63,995.66 588.97,995.27 590.30,994.89 C591.63,994.51 592.97,994.13 594.30,993.75 C595.63,993.37 596.97,992.99 598.30,992.62 C599.63,992.25 600.97,991.88 602.30,991.51 C603.63,991.14 604.97,990.78 606.30,990.41 C607.63,990.05 608.97,989.69 610.30,989.33 C611.63,988.98 612.97,988.62 614.30,988.27 C615.63,987.92 616.97,987.57 618.30,987.22 C619.63,986.87 620.97,986.53 622.30,986.19 C623.63,985.84 624.97,985.51 626.30,985.17 C627.63,984.83 628.97,984.50 630.30,984.17 C631.63,983.83 632.97,983.51 634.30,983.18 C635.63,982.85 636.97,982.53 638.30,982.21 C639.63,981.89 640.97,981.57 642.30,981.25 C643.63,980.93 644.97,980.62 646.30,980.31 C647.63,980.00 648.97,979.69 650.30,979.38 C651.63,979.08 652.97,978.78 654.30,978.47 C655.63,978.17 656.97,977.88 658.30,977.58 C659.63,977.28 660.97,976.99 662.30,976.70 C663.63,976.41 664.97,976.12 666.30,975.83 C667.63,975.55 668.97,975.27 670.30,974.99 C671.63,974.70 672.97,974.43 674.30,974.15 C675.63,973.88 676.97,973.60 678.30,973.33 C679.63,973.06 680.97,972.79 682.30,972.53 C683.63,972.26 684.97,972.00 686.30,971.74 C687.63,971.48 688.97,971.22 690.30,970.96 C691.63,970.71 692.97,970.45 694.30,970.20 C695.63,969.95 696.97,969.71 698.30,969.46 C699.63,969.21 700.97,968.97 702.30,968.73 C703.63,968.49 704.97,968.25 706.30,968.02 C707.63,967.78 708.97,967.55 710.30,967.32 C711.63,967.08 712.97,966.86 714.30,966.63 C715.63,966.40 716.97,966.18 718.30,965.96 C719.63,965.74 720.97,965.52 722.30,965.30 C723.63,965.09 724.97,964.87 726.30,964.66 C727.63,964.45 728.97,964.24 730.30,964.04 C731.63,963.83 732.97,963.63 734.30,963.42 C735.63,963.22 736.97,963.02 738.30,962.83 C739.63,962.63 740.97,962.44 742.30,962.24 C743.63,962.05 744.97,961.86 746.30,961.68 C747.63,961.49 748.97,961.30 750.30,961.12 C751.63,960.94 752.97,960.76 754.30,960.58 C755.63,960.41 756.97,960.23 758.30,960.06 C759.63,959.89 760.97,959.72 762.30,959.55 C763.63,959.38 764.97,959.21 766.30,959.05 C767.63,958.89 768.97,958.73 770.30,958.57 C771.63,958.41 772.97,958.26 774.30,958.10 C775.63,957.95 776.97,957.80 778.30,957.65 C779.63,957.50 780.97,957.35 782.30,957.21 C783.63,957.07 784.97,956.92 786.30,956.78 C787.63,956.65 788.97,956.51 790.30,956.37 C791.63,956.24 792.97,956.11 794.30,955.98 C795.63,955.85 796.97,955.72 798.30,955.59 C799.63,955.47 800.97,955.35 802.30,955.23 C803.63,955.11 804.97,954.99 806.30,954.87 C807.63,954.76 808.97,954.64 810.30,954.53 C811.63,954.42 812.97,954.31 814.30,954.20 C815.63,954.10 816.97,953.99 818.30,953.89 C819.63,953.79 820.97,953.69 822.30,953.59 C823.63,953.49 824.97,953.40 826.30,953.31 C827.63,953.21 828.97,953.12 830.30,953.04 C831.63,952.95 832.97,952.86 834.30,952.78 C835.63,952.69 836.97,952.61 838.30,952.53 C839.63,952.46 840.97,952.38 842.30,952.30 C843.63,952.23 844.97,952.16 846.30,952.09 C847.63,952.02 848.97,951.95 850.30,951.89 C851.63,951.82 852.97,951.76 854.30,951.70 C855.63,951.64 856.97,951.58 858.30,951.52 C859.63,951.46 860.97,951.41 862.30,951.36 C863.63,951.31 864.97,951.26 866.30,951.21 C867.63,951.16 868.97,951.12 870.30,951.08 C871.63,951.03 872.97,950.99 874.30,950.95 C875.63,950.92 876.97,950.88 878.30,950.85 C879.63,950.81 880.97,950.78 882.30,950.75 C883.63,950.72 884.97,950.69 886.30,950.67 C887.63,950.64 888.97,950.62 890.30,950.60 C891.63,950.58 892.97,950.56 894.30,950.55 C895.63,950.53 896.97,950.52 898.30,950.50 C899.63,950.49 900.97,950.48 902.30,950.48 C903.63,950.47 904.97,950.46 906.30,950.46 C907.63,950.46 908.97,950.46 910.30,950.46 C911.63,950.46 912.97,950.46 914.30,950.47 C915.63,950.48 916.97,950.48 918.30,950.49 C919.63,950.50 920.97,950.52 922.30,950.53 C923.63,950.55 924.97,950.56 926.30,950.58 C927.63,950.60 928.97,950.62 930.30,950.65 C931.63,950.67 932.97,950.69 934.30,950.72 C935.63,950.75 936.97,950.78 938.30,950.81 C939.63,950.84 940.97,950.88 942.30,950.91 C943.63,950.95 944.97,950.99 946.30,951.03 C947.63,951.07 948.97,951.11 950.30,951.15 C951.63,951.20 952.97,951.25 954.30,951.29 C955.63,951.34 956.97,951.39 958.30,951.45 C959.63,951.50 960.97,951.56 962.30,951.61 C963.63,951.67 964.97,951.73 966.30,951.79 C967.63,951.85 968.97,951.92 970.30,951.98 C971.63,952.05 972.97,952.12 974.30,952.19 C975.63,952.26 976.97,952.33 978.30,952.40 C979.63,952.48 980.97,952.55 982.30,952.63 C983.63,952.71 984.97,952.79 986.30,952.87 C987.63,952.96 988.97,953.04 990.30,953.13 C991.63,953.21 992.97,953.30 994.30,953.39 C995.63,953.48 996.97,953.58 998.30,953.67 C999.63,953.77 1000.97,953.86 1002.30,953.96 C1003.63,954.06 1004.97,954.16 1006.30,954.27 C1007.63,954.37 1008.97,954.48 1010.30,954.58 C1011.63,954.69 1012.97,954.80 1014.30,954.91 C1015.63,955.02 1016.97,955.14 1018.30,955.25 C1019.63,955.37 1020.97,955.48 1022.30,955.60 C1023.63,955.72 1024.97,955.84 1026.30,955.97 C1027.63,956.09 1028.97,956.22 1030.30,956.34 C1031.63,956.47 1032.97,956.60 1034.30,956.73 C1035.63,956.87 1036.97,957.00 1038.30,957.13 C1039.63,957.27 1040.97,957.41 1042.30,957.55 C1043.63,957.69 1044.97,957.83 1046.30,957.97 C1047.63,958.12 1048.97,958.26 1050.30,958.41 C1051.63,958.56 1052.97,958.71 1054.30,958.86 C1055.63,959.01 1056.97,959.16 1058.30,959.32 C1059.63,959.48 1060.97,959.63 1062.30,959.79 C1063.63,959.95 1064.97,960.11 1066.30,960.28 C1067.63,960.44 1068.97,960.61 1070.30,960.77 C1071.63,960.94 1072.97,961.11 1074.30,961.28 C1075.63,961.45 1076.97,961.63 1078.30,961.80 C1079.63,961.98 1080.97,962.15 1082.30,962.33 C1083.63,962.51 1084.97,962.69 1086.30,962.88 C1087.63,963.06 1088.97,963.25 1090.30,963.43 C1091.63,963.62 1092.97,963.81 1094.30,964.00 C1095.63,964.19 1096.97,964.38 1098.30,964.58 C1099.63,964.77 1100.97,964.97 1102.30,965.16 C1103.63,965.36 1104.97,965.56 1106.30,965.76 C1107.63,965.96 1108.97,966.17 1110.30,966.37 C1111.63,966.57 1112.97,966.78 1114.30,966.98 C1115.63,967.19 1116.97,967.40 1118.30,967.60 C1119.63,967.81 1120.97,968.02 1122.30,968.23 C1123.63,968.44 1124.97,968.65 1126.30,968.87 C1127.63,969.08 1128.97,969.29 1130.30,969.50 C1131.63,969.72 1132.97,969.93 1134.30,970.15 C1135.63,970.36 1136.97,970.58 1138.30,970.79 C1139.63,971.01 1140.97,971.22 1142.30,971.44 C1143.63,971.66 1144.97,971.87 1146.30,972.09 C1147.63,972.31 1148.97,972.52 1150.30,972.74 C1151.63,972.96 1152.97,973.17 1154.30,973.39 C1155.63,973.61 1156.97,973.82 1158.30,974.04 C1159.63,974.26 1160.97,974.47 1162.30,974.69 C1163.63,974.90 1164.97,975.12 1166.30,975.33 C1167.63,975.55 1168.97,975.76 1170.30,975.98 C1171.63,976.19 1172.97,976.40 1174.30,976.61 C1175.63,976.83 1176.97,977.04 1178.30,977.25 C1179.63,977.46 1180.97,977.67 1182.30,977.88 C1183.63,978.08 1184.97,978.29 1186.30,978.50 C1187.63,978.70 1188.97,978.91 1190.30,979.11 C1191.63,979.32 1192.97,979.52 1194.30,979.72 C1195.63,979.92 1196.97,980.12 1198.30,980.32 C1199.63,980.51 1200.97,980.71 1202.30,980.90 C1203.63,981.10 1204.97,981.29 1206.30,981.48 C1207.63,981.67 1208.97,981.86 1210.30,982.05 C1211.63,982.23 1212.97,982.42 1214.30,982.60 C1215.63,982.78 1216.97,982.96 1218.30,983.14 C1219.63,983.32 1220.97,983.49 1222.30,983.67 C1223.63,983.84 1224.97,984.01 1226.30,984.18 C1227.63,984.34 1228.97,984.51 1230.30,984.67 C1231.63,984.83 1232.97,984.99 1234.30,985.15 C1235.63,985.30 1236.97,985.46 1238.30,985.61 C1239.63,985.76 1240.97,985.90 1242.30,986.05 C1243.63,986.19 1244.97,986.33 1246.30,986.47 C1247.63,986.61 1248.97,986.74 1250.30,986.87 C1251.63,987.00 1252.97,987.13 1254.30,987.25 C1255.63,987.37 1256.97,987.49 1258.30,987.61 C1259.63,987.72 1260.97,987.83 1262.30,987.94 C1263.63,988.05 1264.97,988.15 1266.30,988.25 C1267.63,988.35 1268.97,988.45 1270.30,988.54 C1271.63,988.63 1272.97,988.71 1274.30,988.80 C1275.63,988.88 1276.97,988.96 1278.30,989.03 C1279.63,989.10 1280.97,989.17 1282.30,989.23 C1283.63,989.30 1284.97,989.36 1286.30,989.41 C1287.63,989.47 1288.97,989.52 1290.30,989.56 C1291.63,989.60 1292.97,989.64 1294.30,989.68 C1295.63,989.71 1296.97,989.74 1298.30,989.76 C1299.63,989.79 1300.97,989.80 1302.30,989.82 C1303.63,989.83 1304.97,989.84 1306.30,989.84 C1307.63,989.84 1308.97,989.84 1310.30,989.83 C1311.63,989.82 1312.97,989.80 1314.30,989.78 C1315.63,989.76 1316.97,989.73 1318.30,989.70 C1319.63,989.66 1320.97,989.62 1322.30,989.58 C1323.63,989.53 1324.97,989.48 1326.30,989.42 C1327.63,989.36 1328.97,989.30 1330.30,989.23 C1331.63,989.16 1332.97,989.08 1334.30,988.99 C1335.63,988.91 1336.97,988.82 1338.30,988.72 C1339.63,988.62 1340.97,988.52 1342.30,988.41 C1343.63,988.29 1344.97,988.18 1346.30,988.05 C1347.63,987.92 1348.97,987.79 1350.30,987.65 C1351.63,987.51 1352.97,987.36 1354.30,987.21 C1355.63,987.05 1356.97,986.89 1358.30,986.72 C1359.63,986.55 1360.97,986.38 1362.30,986.19 C1363.63,986.01 1364.97,985.82 1366.30,985.62 C1367.63,985.42 1368.97,985.21 1370.30,985.00 C1371.63,984.79 1372.97,984.57 1374.30,984.34 C1375.63,984.12 1376.97,983.88 1378.30,983.64 C1379.63,983.41 1380.97,983.16 1382.30,982.91 C1383.63,982.66 1384.97,982.40 1386.30,982.14 C1387.63,981.87 1388.97,981.60 1390.30,981.33 C1391.63,981.05 1392.97,980.77 1394.30,980.49 C1395.63,980.20 1396.97,979.91 1398.30,979.61 C1399.63,979.32 1400.97,979.01 1402.30,978.71 C1403.63,978.40 1404.97,978.09 1406.30,977.77 C1407.63,977.45 1408.97,977.13 1410.30,976.81 C1411.63,976.48 1412.97,976.15 1414.30,975.81 C1415.63,975.48 1416.97,975.14 1418.30,974.80 C1419.63,974.45 1420.97,974.10 1422.30,973.75 C1423.63,973.40 1424.97,973.05 1426.30,972.69 C1427.63,972.33 1428.97,971.97 1430.30,971.60 C1431.63,971.23 1432.97,970.86 1434.30,970.49 C1435.63,970.12 1436.97,969.74 1438.30,969.36 C1439.63,968.98 1440.97,968.60 1442.30,968.22 C1443.63,967.83 1444.97,967.45 1446.30,967.06 C1447.63,966.67 1448.97,966.27 1450.30,965.88 C1451.63,965.48 1452.97,965.09 1454.30,964.69 C1455.63,964.29 1456.97,963.89 1458.30,963.48 C1459.63,963.08 1460.97,962.68 1462.30,962.27 C1463.63,961.86 1464.97,961.45 1466.30,961.04 C1467.63,960.64 1468.97,960.22 1470.30,959.81 C1471.63,959.40 1472.97,958.99 1474.30,958.57 C1475.63,958.16 1476.97,957.74 1478.30,957.33 C1479.63,956.91 1480.97,956.49 1482.30,956.08 C1483.63,955.66 1484.97,955.24 1486.30,954.82 C1487.63,954.41 1488.97,953.99 1490.30,953.57 C1491.63,953.15 1492.97,952.73 1494.30,952.31 C1495.63,951.90 1496.97,951.48 1498.30,951.06 C1499.63,950.64 1500.97,950.22 1502.30,949.81 C1503.63,949.39 1504.97,948.98 1506.30,948.56 C1507.63,948.14 1508.97,947.73 1510.30,947.32 C1511.63,946.90 1512.97,946.49 1514.30,946.08 C1515.63,945.67 1516.97,945.26 1518.30,944.85 C1519.63,944.44 1520.97,944.04 1522.30,943.63 C1523.63,943.23 1524.97,942.83 1526.30,942.42 C1527.63,942.02 1528.97,941.62 1530.30,941.23 C1531.63,940.83 1532.97,940.44 1534.30,940.04 C1535.63,939.65 1536.97,939.26 1538.30,938.87 C1539.63,938.49 1540.97,938.10 1542.30,937.72 C1543.63,937.34 1544.97,936.96 1546.30,936.58 C1547.63,936.21 1548.97,935.84 1550.30,935.47 C1551.63,935.10 1553.07,934.70 1554.30,934.37 C1555.53,934.03 1557.13,933.61 1557.70,933.45" stroke="#008000"/>
</g>
<path d="M337.46,1129.90V1110.90M337.46,83.10V100.60M424.62,1129.90V1122.50M424.62,83.10V90.80M511.78,1129.90V1110.90M511.78,83.10V100.60M598.94,1129.90V1122.50M598.94,83.10V90.80M686.10,1129.90V1110.90M686.10,83.10V100.60M773.26,1129.90V1122.50M773.26,83.10V90.80M860.42,1129.90V1110.90M860.42,83.10V100.60M947.58,1129.90V1122.50M947.58,83.10V90.80M1034.74,1129.90V1110.90M1034.74,83.10V100.60M1121.90,1129.90V1122.50M1121.90,83.10V90.80M1209.06,1129.90V1110.90M1209.06,83.10V100.60M1296.22,1129.90V1122.50M1296.22,83.10V90.80M1383.38,1129.90V1110.90M1383.38,83.10V100.60M1470.54,1129.90V1122.50M1470.54,83.10V90.80M253.40,167.75H259.40M1554.60,167.75H1547.00M253.40,255.50H270.60M1554.60,255.50H1537.00M253.40,343.25H259.40M1554.60,343.25H1547.00M253.40,431.00H270.60M1554.60,431.00H1537.00M253.40,518.75H259.40M1554.60,518.75H1547.00M253.40,606.50H270.60M1554.60,606.50H1537.00M253.40,694.25H259.40M1554.60,694.25H1547.00M253.40,782.00H270.60M1554.60,782.00H1537.00M253.40,869.75H259.40M1554.60,869.75H1547.00M253.40,957.50H270.60M1554.60,957.50H1537.00M253.40,1045.25H259.40M1554.60,1045.25H1547.00" stroke="#000" stroke-width="8.1" fill="none"/>
<rect x="250.3" y="80.0" width="1307.4" height="1053.0" fill="none" stroke="#000" stroke-width="8.2"/>
<text x="228.5" y="99.00" font-family="Liberation Sans, Arial, sans-serif" font-weight="bold" font-size="65" text-anchor="end">0</text>
<text x="228.5" y="274.50" font-family="Liberation Sans, Arial, sans-serif" font-weight="bold" font-size="65" text-anchor="end">10</text>
<text x="135.96" y="276.60" font-family="Liberation Sans, Arial, sans-serif" font-weight="bold" font-size="65" transform="translate(146.75,259.70) scale(1.07,0.8) translate(-146.75,-259.70)">-</text>
<text x="228.5" y="450.00" font-family="Liberation Sans, Arial, sans-serif" font-weight="bold" font-size="65" text-anchor="end">20</text>
<text x="135.96" y="452.10" font-family="Liberation Sans, Arial, sans-serif" font-weight="bold" font-size="65" transform="translate(146.75,435.20) scale(1.07,0.8) translate(-146.75,-435.20)">-</text>
<text x="228.5" y="625.50" font-family="Liberation Sans, Arial, sans-serif" font-weight="bold" font-size="65" text-anchor="end">30</text>
<text x="135.96" y="627.60" font-family="Liberation Sans, Arial, sans-serif" font-weight="bold" font-size="65" transform="translate(146.75,610.70) scale(1.07,0.8) translate(-146.75,-610.70)">-</text>
<text x="228.5" y="801.00" font-family="Liberation Sans, Arial, sans-serif" font-weight="bold" font-size="65" text-anchor="end">40</text>
<text x="135.96" y="803.10" font-family="Liberation Sans, Arial, sans-serif" font-weight="bold" font-size="65" transform="translate(146.75,786.20) scale(1.07,0.8) translate(-146.75,-786.20)">-</text>
<text x="228.5" y="976.50" font-family="Liberation Sans, Arial, sans-serif" font-weight="bold" font-size="65" text-anchor="end">50</text>
<text x="135.96" y="978.60" font-family="Liberation Sans, Arial, sans-serif" font-weight="bold" font-size="65" transform="translate(146.75,961.70) scale(1.07,0.8) translate(-146.75,-961.70)">-</text>
<text x="228.5" y="1152.00" font-family="Liberation Sans, Arial, sans-serif" font-weight="bold" font-size="65" text-anchor="end">60</text>
<text x="135.96" y="1154.10" font-family="Liberation Sans, Arial, sans-serif" font-weight="bold" font-size="65" transform="translate(146.75,1137.20) scale(1.07,0.8) translate(-146.75,-1137.20)">-</text>
<text x="337.46" y="1206.3" font-family="Liberation Sans, Arial, sans-serif" font-weight="bold" font-size="65" text-anchor="middle">1520</text>
<text x="511.78" y="1206.3" font-family="Liberation Sans, Arial, sans-serif" font-weight="bold" font-size="65" text-anchor="middle">1530</text>
<text x="686.10" y="1206.3" font-family="Liberation Sans, Arial, sans-serif" font-weight="bold" font-size="65" text-anchor="middle">1540</text>
<text x="860.42" y="1206.3" font-family="Liberation Sans, Arial, sans-serif" font-weight="bold" font-size="65" text-anchor="middle">1550</text>
<text x="1034.74" y="1206.3" font-family="Liberation Sans, Arial, sans-serif" font-weight="bold" font-size="65" text-anchor="middle">1560</text>
<text x="1209.06" y="1206.3" font-family="Liberation Sans, Arial, sans-serif" font-weight="bold" font-size="65" text-anchor="middle">1570</text>
<text x="1383.38" y="1206.3" font-family="Liberation Sans, Arial, sans-serif" font-weight="bold" font-size="65" text-anchor="middle">1580</text>
<text x="1557.70" y="1206.3" font-family="Liberation Sans, Arial, sans-serif" font-weight="bold" font-size="65" text-anchor="middle">1590</text>
<text x="904.9" y="1283.5" font-family="Liberation Sans, Arial, sans-serif" font-weight="bold" font-size="69.5" text-anchor="middle">Wavelength (nm)</text>
<text transform="translate(95.2,564.5) rotate(-90)" x="0" y="0" font-family="Liberation Sans, Arial, sans-serif" font-weight="bold" font-size="69.5" text-anchor="middle">Transimission (dB)</text>
<path d="M826.8,140.5H927.2" stroke="#FF0000" stroke-width="8" stroke-linecap="round" fill="none"/>
<text font-family="Liberation Sans, Arial, sans-serif" font-weight="bold" font-size="45" transform="translate(0,154.60) scale(1,1.06) translate(0,-154.60)" x="952.60" y="154.60">TE</text>
<text font-family="Liberation Sans, Arial, sans-serif" font-weight="bold" font-size="28" transform="translate(0,165.60) scale(1,1.05) translate(0,-165.60)" x="1009.39" y="165.60">0</text>
<text font-family="Liberation Sans, Arial, sans-serif" font-weight="bold" font-size="45" x="1033.5" y="154.6">coupler -</text>
<text font-family="Liberation Sans, Arial, sans-serif" font-weight="bold" font-size="45" transform="translate(0,154.60) scale(1,1.06) translate(0,-154.60)" x="1236.00" y="154.60">TE</text>
<text font-family="Liberation Sans, Arial, sans-serif" font-weight="bold" font-size="28" transform="translate(0,165.60) scale(1,1.05) translate(0,-165.60)" x="1292.53" y="165.60">2</text>
<text font-family="Liberation Sans, Arial, sans-serif" font-weight="bold" font-size="45" x="1321.3" y="154.6">crosstalk</text>
<path d="M826.8,205.0H927.2" stroke="#FF8000" stroke-width="8" stroke-linecap="round" fill="none"/>
<text font-family="Liberation Sans, Arial, sans-serif" font-weight="bold" font-size="45" transform="translate(0,220.50) scale(1,1.06) translate(0,-220.50)" x="952.60" y="220.50">TE</text>
<text font-family="Liberation Sans, Arial, sans-serif" font-weight="bold" font-size="28" transform="translate(0,231.50) scale(1,1.05) translate(0,-231.50)" x="1008.74" y="231.50">1</text>
<text font-family="Liberation Sans, Arial, sans-serif" font-weight="bold" font-size="45" x="1033.5" y="220.5">coupler -</text>
<text font-family="Liberation Sans, Arial, sans-serif" font-weight="bold" font-size="45" transform="translate(0,220.50) scale(1,1.06) translate(0,-220.50)" x="1236.00" y="220.50">TE</text>
<text font-family="Liberation Sans, Arial, sans-serif" font-weight="bold" font-size="28" transform="translate(0,231.50) scale(1,1.05) translate(0,-231.50)" x="1292.39" y="231.50">0</text>
<text font-family="Liberation Sans, Arial, sans-serif" font-weight="bold" font-size="45" x="1321.3" y="220.5">crosstalk</text>
<path d="M826.8,272.2H927.2" stroke="#FF8000" stroke-width="8" stroke-linecap="round" stroke-dasharray="30.5 42" fill="none"/>
<text font-family="Liberation Sans, Arial, sans-serif" font-weight="bold" font-size="45" transform="translate(0,286.20) scale(1,1.06) translate(0,-286.20)" x="952.60" y="286.20">TE</text>
<text font-family="Liberation Sans, Arial, sans-serif" font-weight="bold" font-size="28" transform="translate(0,297.20) scale(1,1.05) translate(0,-297.20)" x="1008.74" y="297.20">1</text>
<text font-family="Liberation Sans, Arial, sans-serif" font-weight="bold" font-size="45" x="1033.5" y="286.2">coupler -</text>
<text font-family="Liberation Sans, Arial, sans-serif" font-weight="bold" font-size="45" transform="translate(0,286.20) scale(1,1.06) translate(0,-286.20)" x="1236.00" y="286.20">TE</text>
<text font-family="Liberation Sans, Arial, sans-serif" font-weight="bold" font-size="28" transform="translate(0,297.20) scale(1,1.05) translate(0,-297.20)" x="1292.53" y="297.20">2</text>
<text font-family="Liberation Sans, Arial, sans-serif" font-weight="bold" font-size="45" x="1321.3" y="286.2">crosstalk</text>
<path d="M826.8,338.0H927.2" stroke="#008000" stroke-width="8" stroke-linecap="round" fill="none"/>
<text font-family="Liberation Sans, Arial, sans-serif" font-weight="bold" font-size="45" transform="translate(0,352.00) scale(1,1.06) translate(0,-352.00)" x="952.60" y="352.00">TE</text>
<text font-family="Liberation Sans, Arial, sans-serif" font-weight="bold" font-size="28" transform="translate(0,363.00) scale(1,1.05) translate(0,-363.00)" x="1009.53" y="363.00">2</text>
<text font-family="Liberation Sans, Arial, sans-serif" font-weight="bold" font-size="45" x="1033.5" y="352.0">coupler -</text>
<text font-family="Liberation Sans, Arial, sans-serif" font-weight="bold" font-size="45" transform="translate(0,352.00) scale(1,1.06) translate(0,-352.00)" x="1236.00" y="352.00">TE</text>
<text font-family="Liberation Sans, Arial, sans-serif" font-weight="bold" font-size="28" transform="translate(0,363.00) scale(1,1.05) translate(0,-363.00)" x="1292.39" y="363.00">0</text>
<text font-family="Liberation Sans, Arial, sans-serif" font-weight="bold" font-size="45" x="1321.3" y="352.0">crosstalk</text>
</svg></body></html>
